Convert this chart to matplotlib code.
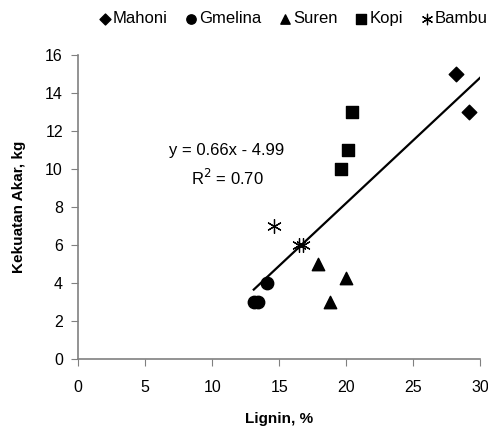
import matplotlib.pyplot as plt
import numpy as np

plt.rcParams['font.family'] = ['Liberation Sans', 'DejaVu Sans']

# data
mahoni_x = [28.2, 29.2]
mahoni_y = [15, 13]
gmelina_x = [13.1, 13.4, 14.1]
gmelina_y = [3, 3, 4]
suren_x = [17.9, 20.0, 18.8]
suren_y = [5, 4.25, 3]
kopi_x = [20.4, 20.1, 19.6]
kopi_y = [13, 11, 10]
bambu_x = [14.6, 16.5, 16.8]
bambu_y = [7, 6, 6]

all_x = np.array(mahoni_x + gmelina_x + suren_x + kopi_x + bambu_x)
# trend line from the printed equation
a = [0.66, -4.99]

fig = plt.figure(figsize=(4.89, 4.30), dpi=100)
ax = fig.add_axes([0.16, 0.165, 0.822, 0.707])

ax.scatter(mahoni_x, mahoni_y, marker='D', s=55, c='k', label='Mahoni')
ax.scatter(gmelina_x, gmelina_y, marker='o', s=80, c='k', label='Gmelina')
ax.scatter(suren_x, suren_y, marker='^', s=80, c='k', label='Suren')
ax.scatter(kopi_x, kopi_y, marker='s', s=80, c='k', label='Kopi')
ax.scatter(bambu_x, bambu_y, marker=(6, 2, 0), s=100, c='k', lw=0.9, label='Bambu')

b = np.linspace(all_x.min(), 30, 100)
ax.plot(b, b*a[0] + a[1], c='k', lw=1.6)

ax.text(11.1, 11.0, 'y = 0.66x - 4.99', fontsize=12, ha='center', va='center')
ax.text(11.1, 9.55, r'R$^2$ = 0.70', fontsize=12, ha='center', va='center')

ax.set_xlim(0, 30)
ax.set_ylim(0, 16)
ax.set_xticks(range(0, 31, 5))
ax.set_yticks(range(0, 17, 2))
ax.tick_params(direction='out', length=5, color='#808080', labelsize=11.5)
ax.tick_params(axis='x', pad=10)
ax.tick_params(axis='y', pad=6)
for s in ['top', 'right']:
    ax.spines[s].set_visible(False)
for s in ['left', 'bottom']:
    ax.spines[s].set_color('#808080')
    ax.spines[s].set_linewidth(1.2)

ax.set_xlabel('Lignin, %', fontweight='bold', fontsize=11, labelpad=12)
ax.set_ylabel('Kekuatan Akar, kg', fontweight='bold', fontsize=11, labelpad=14)

ax.legend(loc='center', bbox_to_anchor=(0.53, 1.12), ncol=5, frameon=False,
          fontsize=12, handletextpad=-0.1, columnspacing=0.8, handlelength=1.2,
          markerscale=0.75, borderaxespad=0)

plt.savefig('out.png', dpi=100)
